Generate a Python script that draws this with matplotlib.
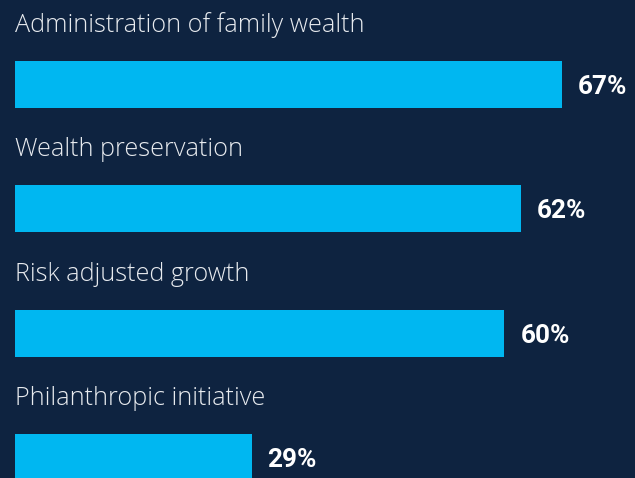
import matplotlib
matplotlib.use("Agg")
import matplotlib.pyplot as plt

categories = ["Administration of family wealth", "Wealth preservation",
              "Risk adjusted growth", "Philanthropic initiative"]
values = [67, 62, 60, 29]

BG = "#0e2340"
BAR = "#00b7f1"
TXT = "#e8ebef"

plt.rcParams["font.family"] = ["Roboto", "DejaVu Sans"]

fig = plt.figure(figsize=(6.35, 4.78), dpi=100, facecolor=BG)
ax = fig.add_axes([0, 0, 1, 1], facecolor=BG)

pos = list(range(len(categories)))
ax.barh(pos, values, height=0.378, color=BAR, left=0)

for i, (c, v) in enumerate(zip(categories, values)):
    ax.text(0, i - 0.422, c, color=TXT, fontsize=18.2, family="Open Sans",
            fontweight="light", ha="left", va="baseline")
    ax.text(v + 1.95, i + 0.02, f"{v}%", color="white", fontsize=18.8,
            fontweight="bold", ha="left", va="center")

ax.set_xlim(-1.84, 76.0)
ax.set_ylim(3.166, -0.68)
ax.axis("off")

fig.savefig("out.png", dpi=100, facecolor=BG)
